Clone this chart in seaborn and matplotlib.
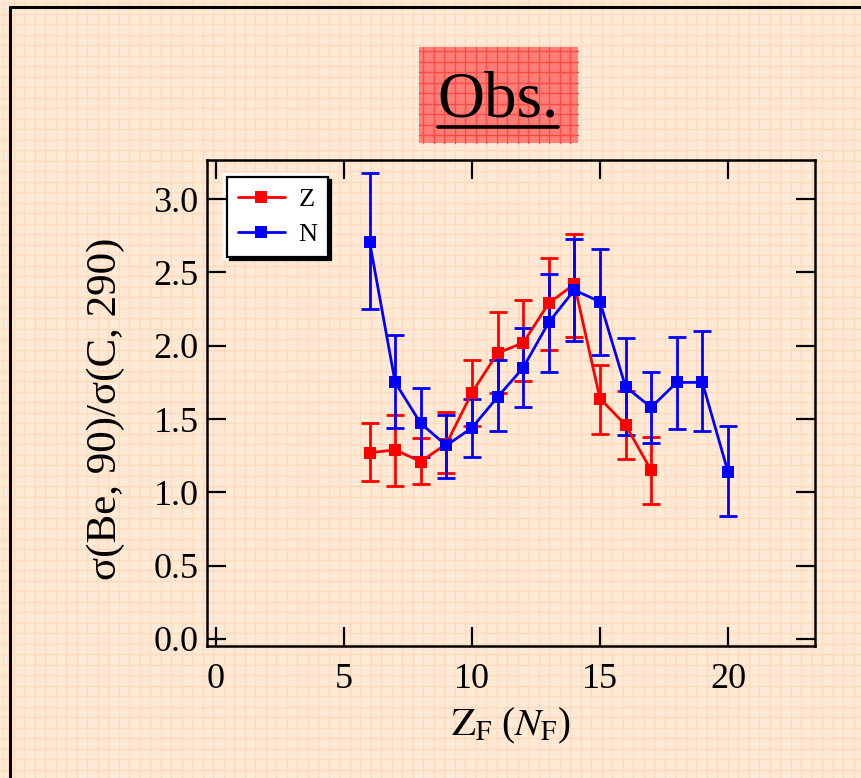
import numpy as np
import pandas as pd
import matplotlib
matplotlib.use("Agg")
import matplotlib.pyplot as plt
import seaborn as sns
from matplotlib.patches import Rectangle

# ---------------- data ----------------
z_x = [6, 7, 8, 9, 10, 11, 12, 13, 14, 15, 16, 17]
z_y = [1.27, 1.29, 1.21, 1.33, 1.68, 1.95, 2.02, 2.29, 2.42, 1.64, 1.46, 1.15]
z_hi = [1.47, 1.53, 1.37, 1.55, 1.90, 2.23, 2.31, 2.60, 2.76, 1.87, 1.69, 1.38]
z_lo = [1.08, 1.04, 1.06, 1.13, 1.45, 1.68, 1.76, 1.97, 2.06, 1.40, 1.23, 0.92]

n_x = [6, 7, 8, 9, 10, 11, 12, 13, 14, 15, 16, 17, 18, 19, 20]
n_y = [2.71, 1.75, 1.47, 1.32, 1.44, 1.65, 1.85, 2.16, 2.38, 2.30, 1.72, 1.58, 1.75, 1.75, 1.14]
n_hi = [3.18, 2.07, 1.71, 1.53, 1.64, 1.90, 2.12, 2.49, 2.73, 2.66, 2.05, 1.82, 2.06, 2.10, 1.45]
n_lo = [2.25, 1.44, 1.24, 1.10, 1.24, 1.42, 1.58, 1.82, 2.03, 1.94, 1.39, 1.34, 1.43, 1.42, 0.84]

x_ticks = [0, 5, 10, 15, 20]
y_ticks = [0.0, 0.5, 1.0, 1.5, 2.0, 2.5, 3.0]
series_names = ["Z", "N"]
series_colors = ["#FF0000", "#0000FF"]

df = pd.concat([
    pd.DataFrame({"x": z_x, "y": z_y, "s": "Z"}),
    pd.DataFrame({"x": n_x, "y": n_y, "s": "N"}),
], ignore_index=True)

# ---------------- style ----------------
sns.set_style("ticks")
plt.rcParams["font.family"] = ["Liberation Serif", "DejaVu Serif"]
plt.rcParams["mathtext.fontset"] = "stix"
plt.rcParams["text.color"] = "black"
plt.rcParams["axes.labelcolor"] = "black"

W, H = 861, 778
fig = plt.figure(figsize=(W / 100, H / 100), dpi=100)
fig.patch.set_facecolor("#FFEAD7")

# background pattern (pixel coordinates)
bg = fig.add_axes([0, 0, 1, 1], zorder=-10)
bg.set_xlim(0, W)
bg.set_ylim(H, 0)
bg.axis("off")
bg.set_facecolor("none")
for gx in np.arange(3, W, 10.5):
    bg.axvline(gx, color="#FFDABB", lw=1.0, zorder=0)
for gy in np.arange(3, H, 10.5):
    bg.axhline(gy, color="#FFDABB", lw=1.0, zorder=0)
# frame lines
bg.plot([10, 10], [7, H], color="black", lw=2.2, zorder=5)
bg.plot([10, W], [7, 7], color="black", lw=2.2, zorder=5)
# title box
bx0, by0, bw, bh = 419, 47, 159, 96
bg.add_patch(Rectangle((bx0, by0), bw, bh, facecolor="#FF7E77", edgecolor="none", zorder=2))
for gx in np.arange(bx0 + 4, bx0 + bw, 10.5):
    bg.plot([gx, gx], [by0, by0 + bh], color="#FF4A45", lw=1.0, zorder=3)
for gy in np.arange(by0 + 4, by0 + bh, 10.5):
    bg.plot([bx0, bx0 + bw], [gy, gy], color="#FF4A45", lw=1.0, zorder=3)
bg.text(498, 101, "Obs.", fontsize=47, ha="center", va="center", color="black", zorder=4)
bg.plot([438, 558], [127, 127], color="black", lw=2.6, zorder=4)
# white area behind legend
bg.add_patch(Rectangle((223, 173), 106, 87, facecolor="white", edgecolor="none", zorder=2))

# ---------------- main axes ----------------
ax = fig.add_axes([207 / W, 1 - 646 / H, (815 - 207) / W, (646 - 160) / H])
ax.set_facecolor("none")

for name, color, xs, ys, lo, hi in [
    ("Z", series_colors[0], z_x, z_y, z_lo, z_hi),
    ("N", series_colors[1], n_x, n_y, n_lo, n_hi),
]:
    ys_a = np.array(ys)
    yerr = np.vstack([ys_a - np.array(lo), np.array(hi) - ys_a])
    ax.errorbar(xs, ys, yerr=yerr, fmt="none", ecolor=color, elinewidth=2.0,
                capsize=6.5, capthick=2.0, zorder=2)
    sns.lineplot(data=df[df["s"] == name], x="x", y="y", color=color, marker="s",
                 markersize=8, markeredgewidth=0, linewidth=2.0, ax=ax, label=name,
                 zorder=3)

ax.set_xlim(-0.35, 23.4)
ax.set_ylim(-0.048, 3.267)
ax.set_xticks(x_ticks)
ax.set_yticks(y_ticks)
ax.set_yticklabels([f"{v:.1f}" for v in y_ticks])
ax.tick_params(direction="in", length=14, width=1.6, labelsize=26,
               top=True, right=True, colors="black")
ax.tick_params(axis="x", pad=12)
ax.tick_params(axis="y", pad=6)
for sp in ax.spines.values():
    sp.set_visible(True)
    sp.set_linewidth(1.8)
    sp.set_color("black")

ax.set_xlabel(r"$\mathrm{Z}_\mathrm{F}$ ($N_\mathrm{F}$)", fontsize=28)
ax.set_ylabel("σ(Be, 90)/σ(C, 290)", fontsize=31)
ax.xaxis.set_label_coords(0.5, (646 - 706) / 486)
ax.yaxis.set_label_coords((125 - 207) / 608, 0.488)

leg = ax.legend(loc="upper left", bbox_to_anchor=(227 / W, 1 - 177 / H),
                bbox_transform=fig.transFigure, borderaxespad=0,
                fontsize=19, frameon=True, fancybox=False, framealpha=1,
                edgecolor="black", handlelength=1.8, handletextpad=0.5,
                labelspacing=0.45, borderpad=0.4,
                shadow={"color": "black", "alpha": 1, "shade": 1.0})
leg.get_frame().set_linewidth(1.6)

fig.savefig("out.png", dpi=100, facecolor=fig.get_facecolor())
